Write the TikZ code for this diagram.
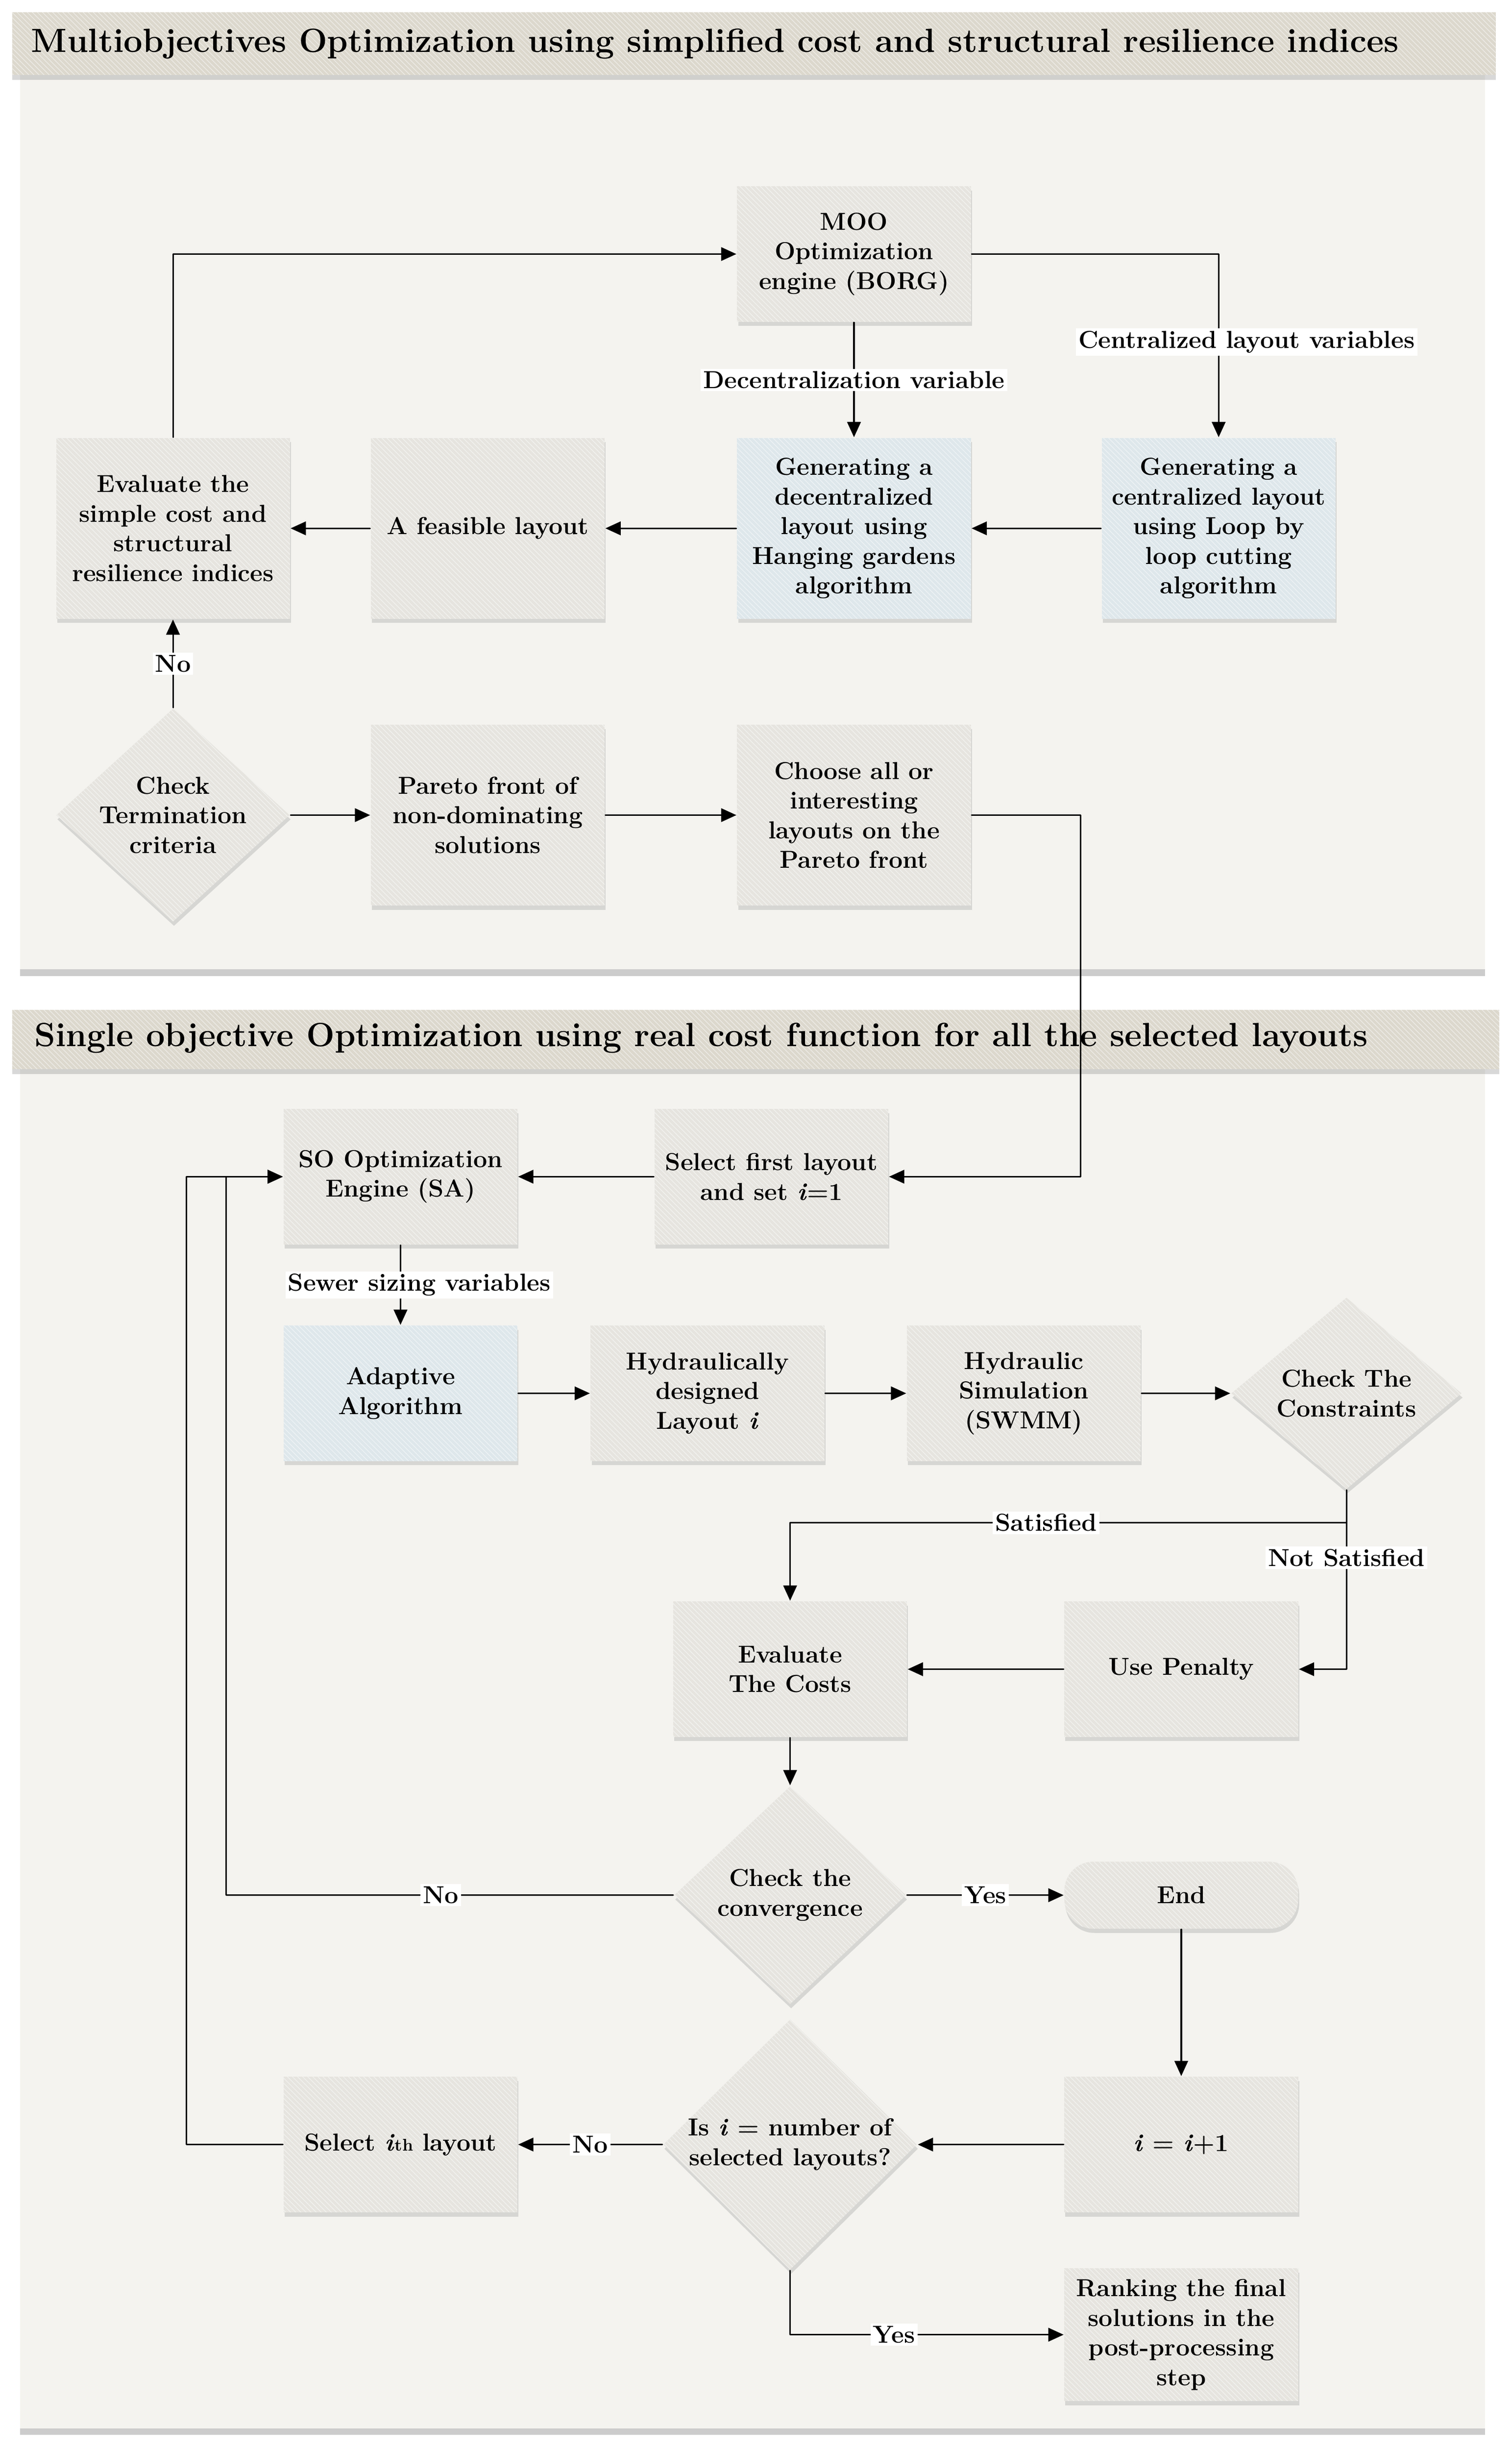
\documentclass[tikz,border=0pt]{standalone}
\usetikzlibrary{shapes.geometric,arrows.meta,shadows,patterns}
\definecolor{panelbg}{HTML}{F4F3EF}
\definecolor{bannerbg}{HTML}{DCD8CD}
\definecolor{boxbg}{HTML}{E6E4DF}
\definecolor{bluebg}{HTML}{DEE7EB}
\begin{document}
\begin{tikzpicture}[x=0.03234cm, y=-0.03234cm, line join=round, line cap=round,
	>={Triangle[length=9pt,width=8pt]}, line width=0.9pt,
	font=\fontsize{14.5}{17.5}\selectfont\bfseries,
	hatch/.style={postaction={pattern=north west lines, pattern color=white!50!#1}},
	boxfill/.style={fill=#1, hatch=#1, drop shadow={shadow xshift=0.6pt, shadow yshift=-2.5pt, opacity=0.25}},
	box/.style={rectangle, minimum width=\bw, minimum height=2.81cm, align=center, inner sep=2pt, boxfill=#1}, box/.default=boxbg,
	tall/.style={box=#1, minimum height=3.75cm}, tall/.default=boxbg,
	diam/.style={diamond, align=center, inner sep=0pt, boxfill=boxbg},
	lbl/.style={fill=white, inner sep=1.5pt},
	ttl/.style={anchor=west, font=\fontsize{19.8}{23}\selectfont\bfseries}]
	\def\bw{4.85cm} % chieu rong hop
	\path[fill=white] (0,0) rectangle (970,1572);
	% khung tren
	\path[fill=panelbg, drop shadow={shadow xshift=0pt, shadow yshift=-4pt, opacity=0.4}] (13,48) rectangle (953,622);
	\path[fill=bannerbg, hatch=bannerbg, drop shadow={shadow xshift=0pt, shadow yshift=-3pt, opacity=0.3}] (8,8) rectangle (960,48);
	\node[ttl] (t1) at (16,28) {Multiobjectives Optimization using simplified cost and structural resilience indices};
	% khung duoi
	\path[fill=panelbg, drop shadow={shadow xshift=0pt, shadow yshift=-4pt, opacity=0.4}] (13,686) rectangle (953,1558);
	\path[fill=bannerbg, hatch=bannerbg, drop shadow={shadow xshift=0pt, shadow yshift=-3pt, opacity=0.3}] (8,648) rectangle (962,686);
	\node[ttl] (t2) at (18,666) {Single objective Optimization using real cost function for all the selected layouts};
	\path 
	(548,163) node[box] (moo) {MOO\\Optimization\\engine (BORG)}
	(548,339) node[tall=bluebg] (dec) {Generating a\\decentralized\\layout using\\Hanging gardens\\algorithm}
	(782,339) node[tall=bluebg] (cen) {Generating a\\centralized layout\\using Loop by\\loop cutting\\algorithm}
	(313,339) node[tall] (feas) {A feasible layout}
	(111,339) node[tall] (evsi) {Evaluate the\\simple cost and\\structural\\resilience indices}
	(111,523) node[diam, minimum width=\bw, minimum height=4.43cm, aspect=1.09, inner sep=-2pt] (term) {Check\\Termination\\criteria}
	(313,523) node[tall] (pareto) {Pareto front of\\non-dominating\\solutions}
	(548,523) node[tall] (choose) {Choose all or\\interesting\\layouts on the\\Pareto front};
	\path 
	(257,755) node[box] (so) {SO Optimization\\Engine (SA)}
	(495,755) node[box] (first) {Select first layout\\and set \textit{i}=1}
	(257,894) node[box=bluebg] (adapt) {Adaptive\\Algorithm}
	(454,894) node[box] (hyd) {Hydraulically\\designed\\Layout \textit{i}}
	(657,894) node[box] (swmm) {Hydraulic\\Simulation\\(SWMM)}
	(864,894) node[diam, minimum width=4.79cm, minimum height=3.98cm, aspect=1.2] (cons) {Check The\\Constraints}
	(507,1071) node[box] (cost) {Evaluate\\The Costs}
	(758,1071) node[box] (pen) {Use Penalty}
	(507,1216) node[diam, minimum width=4.82cm, minimum height=4.53cm, aspect=1.06] (conv) {Check the\\convergence}
	(758,1216) node[box, minimum height=1.39cm, rounded corners=0.6cm] (end) {End}
	(758,1376) node[box] (inc) {\textit{i} = \textit{i}+1}
	(507,1376) node[diam, minimum width=5.27cm, minimum height=5.2cm, aspect=1, inner sep=-1pt] (isi) {Is \textit{i} = number of\\selected layouts?}
	(257,1376) node[box] (seli) {Select \textit{i}{\fontsize{10}{12}\selectfont th} layout}
	(758,1498) node[box, minimum height=2.75cm] (rank) {Ranking the final\\solutions in the\\post-processing\\step};
	\coordinate (split) at (864,977);
	% mui ten khung tren
	\draw[->] (evsi.north) |- (moo.west);
	\draw[->] (moo.south) -- node[lbl] {Decentralization variable} (dec.north);
	\draw[->] (moo.east) -| node[lbl, pos=0.74, xshift=0.58cm] {Centralized layout variables} (cen.north);
	\draw[->] (cen.west) -- (dec.east);
	\draw[->] (dec.west) -- (feas.east);
	\draw[->] (feas.west) -- (evsi.east);
	\draw[->] (term.north) -- node[lbl] {No} (evsi.south);
	\draw[->] (term.east) -- (pareto.west);
	\draw[->] (pareto.east) -- (choose.west);
	\draw[->] (choose.east) -- ++(70,0) |- (first.east);
	% mui ten khung duoi
	\draw[->] (first.west) -- (so.east);
	\draw[->] (so.south) -- node[lbl, xshift=0.39cm] {Sewer sizing variables} (adapt.north);
	\draw[->] (adapt.east) -- (hyd.west);
	\draw[->] (hyd.east) -- (swmm.west);
	\draw[->] (swmm.east) -- (cons.west);
	\draw[->] (cons.south) -- (split) -| node[lbl, pos=0.27] {Satisfied} (cost.north);
	\draw[->] (split) |- node[lbl, pos=0.12] {Not Satisfied} (pen.east);
	\draw[->] (pen.west) -- (cost.east);
	\draw[->] (cost.south) -- (conv.north);
	\draw[->] (conv.west) -- node[lbl, pos=0.52] {No} ++(-287,0) |- (so.west);
	\draw[->] (conv.east) -- node[lbl] {Yes} (end.west);
	\draw[->] (end.south) -- (inc.north);
	\draw[->] (inc.west) -- (isi.east);
	\draw[->] (isi.west) -- node[lbl] {No} (seli.east);
	\draw[->] (seli.west) -- ++(-62,0) |- (so.west);
	\draw[->] (isi.south) |- node[lbl, pos=0.69] {Yes} (rank.west);
\end{tikzpicture}
\end{document}
